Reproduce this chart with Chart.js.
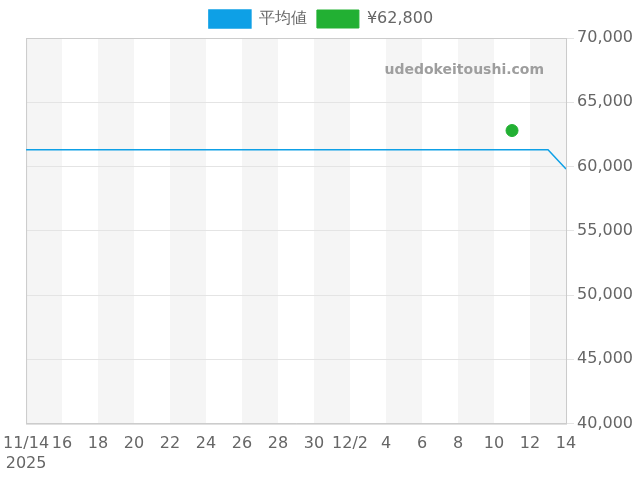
<!DOCTYPE html>
<html><head><meta charset="utf-8">
<script src="https://cdn.jsdelivr.net/npm/chart.js@4/dist/chart.umd.min.js"></script>
<style>body{margin:0;background:#fff}#w{width:640px;height:480px}</style>
</head><body><div id="w"><canvas id="c"></canvas></div>
<script>
const dayLabels = ["11/14","15","16","17","18","19","20","21","22","23","24","25","26","27","28","29","30","1","12/2","3","4","5","6","7","8","9","10","11","12","13","14"];
const avgValues = [61300,61300,61300,61300,61300,61300,61300,61300,61300,61300,61300,61300,61300,61300,61300,61300,61300,61300,61300,61300,61300,61300,61300,61300,61300,61300,61300,61300,61300,61300,59800];
const pointIndex = [27];
const pointValues = [62800];
const yearLabel = "2025";

const bands = {
  id:'bands',
  beforeDraw(ch){
    const {ctx, chartArea:a, scales:{x}} = ch;
    ctx.save(); ctx.fillStyle='#f5f5f5';
    for(let i=0;i<dayLabels.length-1;i+=4){
      const x0=x.getPixelForValue(i), x1=x.getPixelForValue(Math.min(i+2,dayLabels.length-1));
      ctx.fillRect(x0,a.top,x1-x0,a.bottom-a.top);
    }
    ctx.restore();
  },
  beforeDatasetsDraw(ch){
    const {ctx, chartArea:a} = ch;
    ctx.save();
    ctx.strokeStyle='#ccc'; ctx.lineWidth=1;
    ctx.strokeRect(a.left+0.5,a.top+0.5,a.right-a.left,a.bottom-a.top);
    ctx.fillStyle='#9e9e9e'; ctx.font='bold 14px "DejaVu Sans"'; ctx.textAlign='right';
    ctx.fillText('udedokeitoushi.com', a.right-22, a.top+32);
    ctx.restore();
  }
};

new Chart(document.getElementById('c'),{
  type:'line',
  data:{datasets:[
    {label:'平均値',data:avgValues.map((v,i)=>({x:i,y:v})),borderColor:'#0ea0e6',backgroundColor:'#0ea0e6',borderWidth:1.5,pointRadius:0,tension:0},
    {label:'¥62,800',type:'scatter',data:pointValues.map((v,i)=>({x:pointIndex[i],y:v})),backgroundColor:'#22b033',borderColor:'#22b033',pointRadius:6}
  ]},
  plugins:[bands],
  options:{
    animation:false,responsive:true,maintainAspectRatio:false,
    layout:{padding:{left:6,right:4,bottom:4}},
    plugins:{legend:{labels:{boxWidth:42,boxHeight:18,font:{size:16,family:'"DejaVu Sans"'},color:'#666'}},tooltip:{enabled:false}},
    scales:{
      x:{type:'linear',min:0,max:30,
        ticks:{stepSize:2,autoSkip:false,maxRotation:0,color:'#666',font:{size:16,family:'"DejaVu Sans"'},
          callback:(v)=> v===0?[dayLabels[0],yearLabel]:dayLabels[v]},
        grid:{display:false},border:{color:'#ccc'}},
      y:{position:'right',min:40000,max:70000,
        ticks:{stepSize:5000,color:'#666',font:{size:16,family:'"DejaVu Sans"'},callback:v=>v.toLocaleString('en-US')},
        grid:{color:'#e4e4e4'},border:{color:'#ccc'}}
    }
  }
});
</script></body></html>
